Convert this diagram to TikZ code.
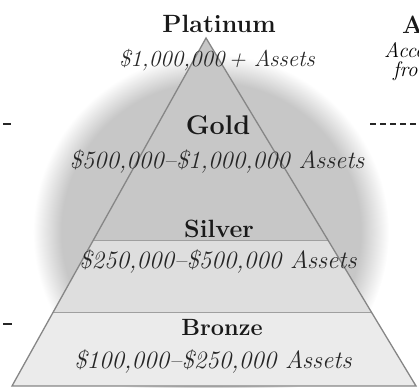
\documentclass[tikz,border=0pt]{standalone}
\usepackage{fontspec}
\usetikzlibrary{calc}
\pgfdeclareradialshading{halo}{\pgfpointorigin}{color(0bp)=(gray!44); color(21bp)=(gray!44); color(25bp)=(white); color(50bp)=(white)}

\begin{document}
\begin{tikzpicture}[x=1pt,y=-1pt,
    tier/.style={font=\fontsize{25}{25}\selectfont\bfseries,inner sep=0pt,text=black!90},
    amount/.style={font=\fontsize{25}{25}\selectfont\itshape,inner sep=0pt,text=black!85},
    sidenote/.style={font=\fontsize{21}{21}\selectfont\itshape,inner sep=0pt,anchor=west},
    edge/.style={draw=gray!95,line width=1.3pt},
    band/.style={draw=gray!75,line width=1pt},
    rule/.style={draw=black!85,line width=1.3pt}]

  \useasboundingbox (0,0) rectangle (419,387);
  \clip (0,0) rectangle (419,387);

  % Halo behind the pyramid
  \shade[shading=halo] (211,232) circle (178);

  % Pyramid
  \coordinate (top) at (206,38);
  \coordinate (bl) at (12,386);
  \coordinate (br) at (416,386);
  \coordinate (sl) at ($(top)!0.5805!(bl)$);
  \coordinate (sr) at ($(top)!0.5805!(br)$);
  \coordinate (bzl) at ($(top)!0.7902!(bl)$);
  \coordinate (bzr) at ($(top)!0.7902!(br)$);

  \fill[gray!44] (top) -- (sr) -- (sl) -- cycle;
  \fill[gray!26] (sl) -- (sr) -- (bzr) -- (bzl) -- cycle;
  \fill[gray!16] (bzl) -- (bzr) -- (br) -- (bl) -- cycle;
  \draw[band] (sl) -- (sr) (bzl) -- (bzr);
  \draw[edge] (top) -- (br) -- (bl) -- cycle;

  % Tiers
  \node[tier] (platinum) at (219,24) {Platinum};
  \node[amount,font=\fontsize{23}{23}\selectfont\itshape] (platamt) at (217,60) {\$1,000,000\,+ Assets};
  \node[tier,font=\fontsize{27}{27}\selectfont\bfseries] (gold) at (218,125) {Gold};
  \node[amount,font=\fontsize{24.8}{24.8}\selectfont\itshape] (goldamt) at (217,162) {\$500,000--\$1,000,000 Assets};
  \node[tier] (silver) at (219,229) {Silver};
  \node[amount] (silveramt) at (218,262) {\$250,000--\$500,000 Assets};
  \node[tier,font=\fontsize{23.5}{23.5}\selectfont\bfseries] (bronze) at (222,328) {Bronze};
  \node[amount] (bronzeamt) at (213,362) {\$100,000--\$250,000 Assets};

  % Cut-off margin notes
  \node[tier,anchor=west] (sidehead) at (402,25) {A};
  \node[sidenote] (sideone) at (384,50) {Acco};
  \node[sidenote] (sidetwo) at (393,71) {fro};

  \draw[rule] (3,124) -- (11,124);
  \draw[rule,dash pattern=on 6pt off 4pt] (370,124) -- (419,124);
  \draw[rule] (3,324) -- (12,324);

\end{tikzpicture}
\end{document}
